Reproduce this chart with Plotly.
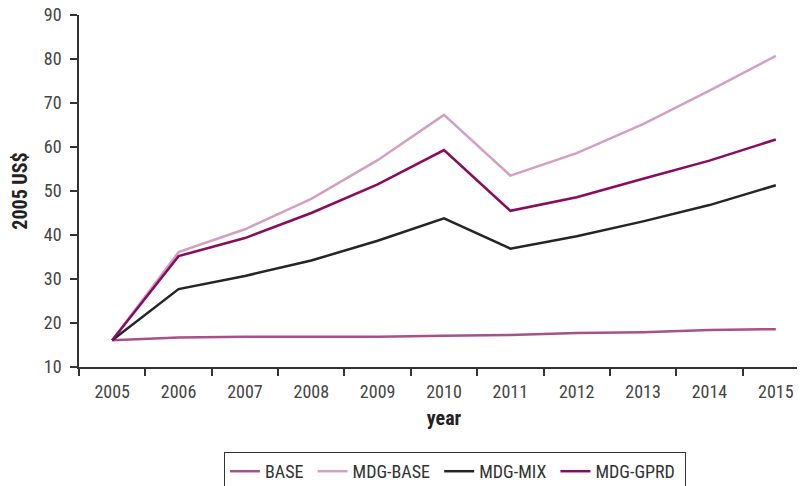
import plotly.graph_objects as go

years = [str(y) for y in range(2005, 2016)]
base = [16.1, 16.7, 16.9, 16.9, 16.9, 17.1, 17.3, 17.7, 17.9, 18.4, 18.6]
mdg_base = [16.1, 36.1, 41.3, 48.2, 57.0, 67.3, 53.5, 58.6, 65.2, 72.8, 80.7]
mdg_mix = [16.1, 27.7, 30.7, 34.2, 38.7, 43.8, 36.9, 39.7, 43.1, 46.8, 51.3]
mdg_gprd = [16.1, 35.2, 39.3, 45.0, 51.5, 59.3, 45.5, 48.6, 52.8, 56.9, 61.7]

series = [
    ("BASE", base, "#a8508a"),
    ("MDG-BASE", mdg_base, "#d2a0c2"),
    ("MDG-MIX", mdg_mix, "#252525"),
    ("MDG-GPRD", mdg_gprd, "#8a0a5e"),
]

FONT = "'Liberation Sans Narrow', 'Roboto Condensed', 'Arial Narrow', Roboto, sans-serif"
PAD = "\u00a0"

fig = go.Figure()
for name, vals, col in series:
    fig.add_trace(go.Scatter(x=years, y=vals, mode="lines", name=name + PAD,
                             line=dict(color=col, width=2.5)))

fig.update_layout(
    width=805, height=486,
    margin=dict(l=71, r=4, t=7, b=127, autoexpand=False),
    plot_bgcolor="white", paper_bgcolor="white",
    font=dict(family=FONT, size=18, color="#444444"),
    showlegend=True,
    legend=dict(orientation="h", x=0.515, xanchor="center", xref="paper",
                y=0.0864, yanchor="top", yref="container",
                bordercolor="#333333", borderwidth=1,
                font=dict(size=18, color="#333333"),
                itemwidth=30, tracegroupgap=0),
    xaxis=dict(type="category", range=[-0.5, 10.5], tickson="boundaries",
               ticks="outside", ticklen=7, tickcolor="#333333", tickwidth=1.5,
               showline=True, linecolor="#333333", linewidth=1.5,
               showgrid=False, zeroline=False, automargin=False,
               ticklabelstandoff=8, ticklabeloverflow="allow",
               title=dict(text="<b>year</b>", font=dict(size=20, color="#222222"), standoff=10)),
    yaxis=dict(range=[10, 90], dtick=10, ticks="outside", ticklen=7,
               tickcolor="#333333", tickwidth=1.5,
               showline=True, linecolor="#333333", linewidth=1.5,
               showgrid=False, zeroline=False, automargin=False,
               ticklabelstandoff=5, ticklabeloverflow="allow",
               title=dict(text="<b>2005 US$</b>", font=dict(size=20, color="#222222"), standoff=20)),
)

fig.write_html("out.html")
